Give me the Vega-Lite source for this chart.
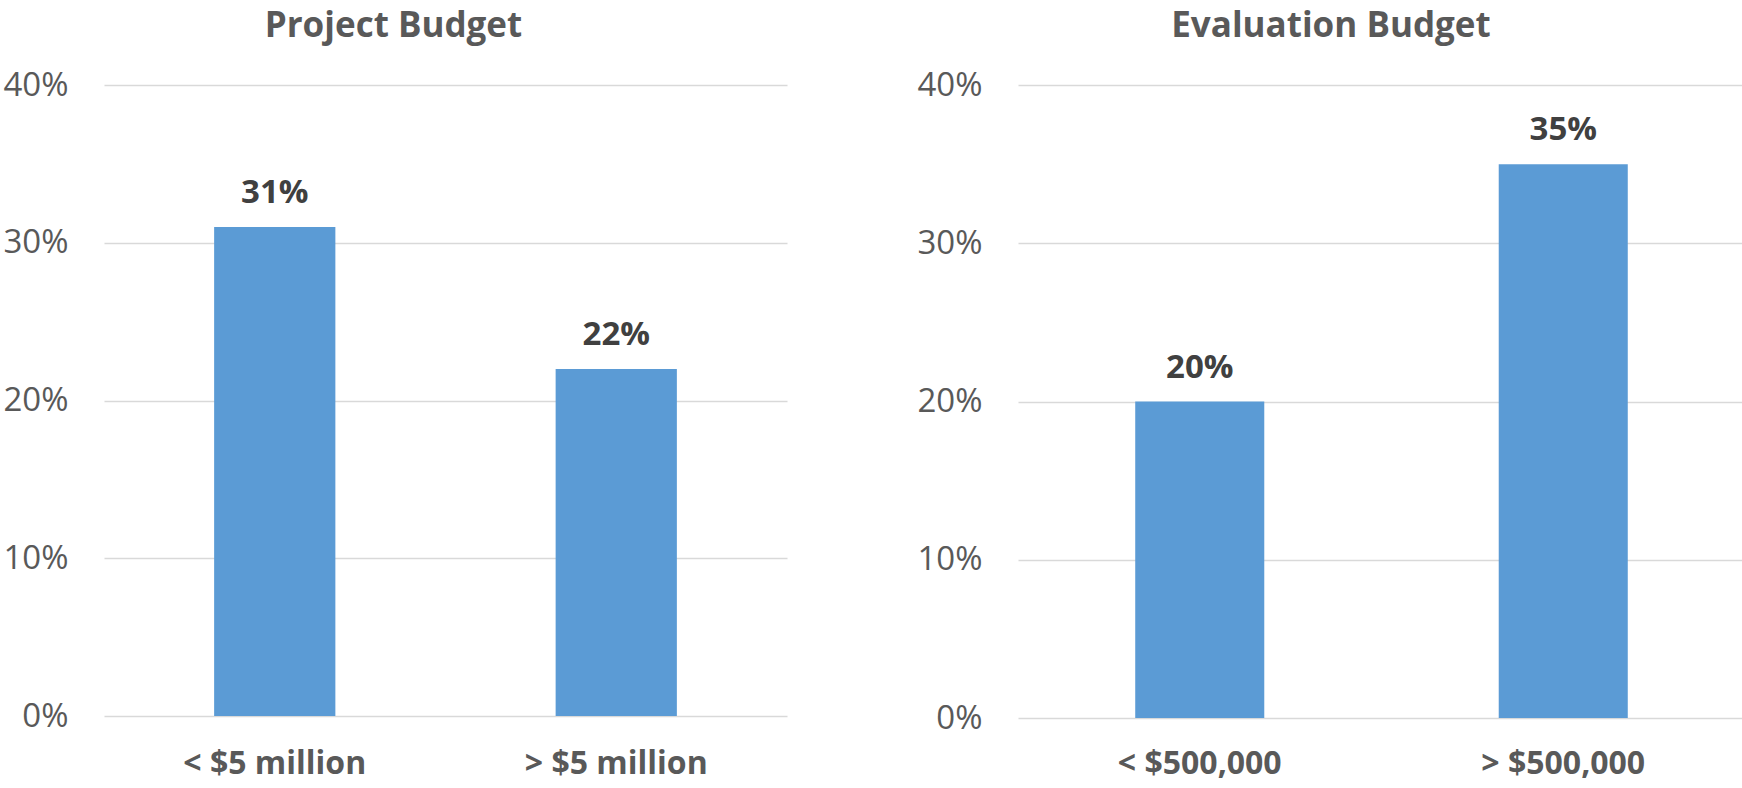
{
  "$schema": "https://vega.github.io/schema/vega-lite/v6.json",
  "padding": {"top": 9, "left": 0, "right": 0, "bottom": 0},
  "background": "white",
  "datasets": {
    "project": [
      {"category": "< $5 million", "value": 0.31},
      {"category": "> $5 million", "value": 0.22}
    ],
    "evaluation": [
      {"category": "< $500,000", "value": 0.20},
      {"category": "> $500,000", "value": 0.35}
    ]
  },
  "config": {
    "view": {"stroke": null},
    "font": "Open Sans",
    "title": {"font": "Open Sans", "fontSize": 35, "fontWeight": "bold", "color": "#595959", "anchor": "middle", "frame": "bounds", "offset": 25},
    "axisX": {"domain": false, "ticks": false, "grid": false, "labelFont": "Open Sans", "labelFontSize": 32, "labelFontWeight": "bold", "labelColor": "#595959", "labelPadding": 32, "labelLimit": 0, "title": null, "labelAngle": 0},
    "axisY": {"domain": false, "ticks": false, "grid": true, "gridColor": "#d9d9d9", "gridWidth": 1.5, "labelFont": "Open Sans", "labelFontSize": 33, "labelColor": "#595959", "labelPadding": 36, "title": null}
  },
  "hconcat": [
    {
      "title": "Project Budget",
      "data": {"name": "project"},
      "width": 683,
      "height": 631,
      "layer": [
        {
          "mark": {"type": "bar", "color": "#5B9BD5"},
          "encoding": {
            "x": {"field": "category", "type": "nominal", "sort": null, "scale": {"paddingInner": 0.645, "paddingOuter": 0.3225}},
            "y": {"field": "value", "type": "quantitative", "scale": {"domain": [0, 0.4]}, "axis": {"values": [0, 0.1, 0.2, 0.3, 0.4], "format": ".0%", "minExtent": 104, "maxExtent": 104}}
          }
        },
        {
          "mark": {"type": "text", "font": "Open Sans", "fontSize": 33, "fontWeight": "bold", "color": "#404040", "baseline": "alphabetic", "dy": -24},
          "encoding": {
            "x": {"field": "category", "type": "nominal", "sort": null},
            "y": {"field": "value", "type": "quantitative"},
            "text": {"field": "value", "type": "quantitative", "format": ".0%"}
          }
        }
      ]
    },
    {
      "title": "Evaluation Budget",
      "data": {"name": "evaluation"},
      "width": 727,
      "height": 633,
      "layer": [
        {
          "mark": {"type": "bar", "color": "#5B9BD5"},
          "encoding": {
            "x": {"field": "category", "type": "nominal", "sort": null, "scale": {"paddingInner": 0.645, "paddingOuter": 0.3225}, "axis": {"labelPadding": 30}},
            "y": {"field": "value", "type": "quantitative", "scale": {"domain": [0, 0.4]}, "axis": {"values": [0, 0.1, 0.2, 0.3, 0.4], "format": ".0%", "minExtent": 99, "maxExtent": 99}}
          }
        },
        {
          "mark": {"type": "text", "font": "Open Sans", "fontSize": 33, "fontWeight": "bold", "color": "#404040", "baseline": "alphabetic", "dy": -24},
          "encoding": {
            "x": {"field": "category", "type": "nominal", "sort": null},
            "y": {"field": "value", "type": "quantitative"},
            "text": {"field": "value", "type": "quantitative", "format": ".0%"}
          }
        }
      ]
    }
  ],
  "spacing": 129
}
